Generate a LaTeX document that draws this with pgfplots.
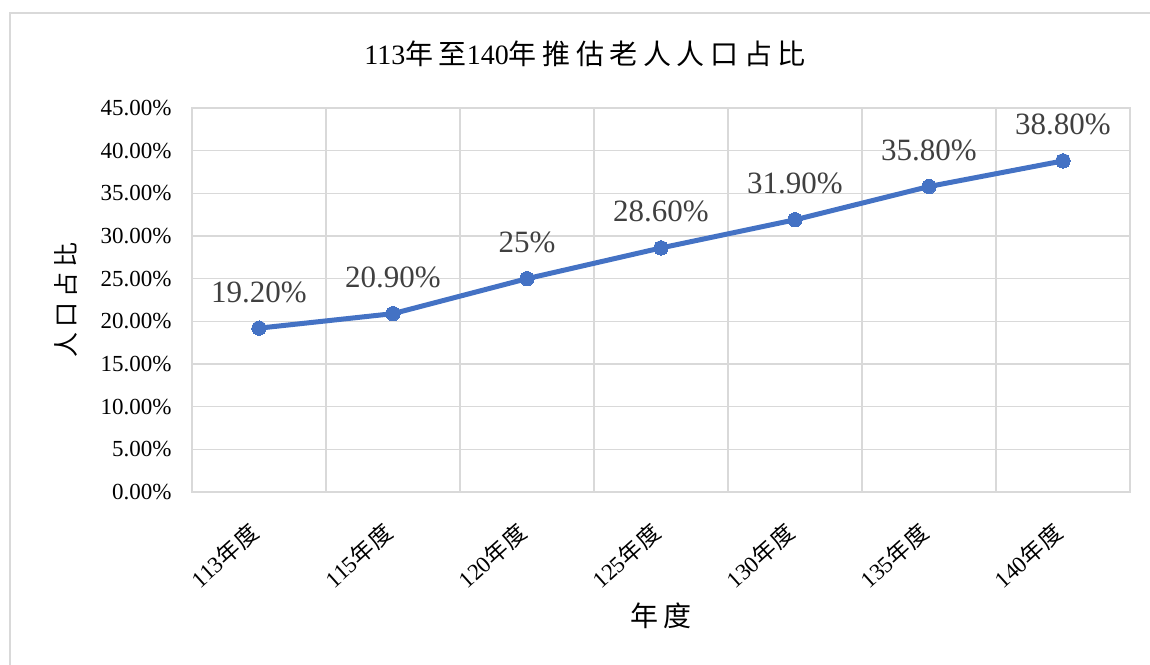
\documentclass[border=0pt]{standalone}
\usepackage{fontspec}
\setmainfont{Liberation Serif}
\newfontfamily\cjk[LetterSpace=20]{Noto Sans CJK TC}
\newfontfamily\cjkt[LetterSpace=6]{Noto Sans CJK TC}
\usepackage{pgfplots}
\pgfplotsset{compat=1.18}
\definecolor{linec}{HTML}{4472C4}
\definecolor{gridc}{HTML}{D9D9D9}
\definecolor{labc}{HTML}{404040}
\newcommand{\zh}[1]{{\cjk #1}}
\newcommand{\zt}[1]{{\cjkt #1}}

\begin{document}
\begin{tikzpicture}
\useasboundingbox (0,0) rectangle (575pt,332pt);
\begin{scope}
  \clip (0,0) rectangle (575pt,332pt);
  \draw[gridc, line width=1pt] (5pt,325.5pt) rectangle (620pt,-20pt);
\end{scope}

\begin{axis}[
    at={(96pt,86pt)}, anchor=south west,
    width=469pt, height=192pt, scale only axis,
    xmin=-0.5, xmax=6.5, ymin=0, ymax=45,
    xtick={0,...,6},
    xticklabels={113\zt{年度},115\zt{年度},120\zt{年度},125\zt{年度},130\zt{年度},135\zt{年度},140\zt{年度}},
    minor xtick={-0.5,0.5,...,6.5},
    ytick={0,5,...,45},
    yticklabels={0.00\%,5.00\%,10.00\%,15.00\%,20.00\%,25.00\%,30.00\%,35.00\%,40.00\%,45.00\%},
    ymajorgrids=true, xminorgrids=true, xmajorgrids=false,
    major grid style={gridc, line width=0.75pt},
    minor grid style={gridc, line width=0.75pt},
    axis line style={gridc, line width=0.75pt},
    major tick length=0pt, minor tick length=0pt,
    tick style={draw=none},
    ticklabel style={font=\fontsize{11.5}{13}\selectfont, text=black},
    yticklabel style={anchor=east, inner sep=0pt, xshift=-10pt},
    xticklabel style={inner sep=0pt, xshift=-2pt, yshift=-18pt, rotate=42, anchor=east},
    clip=false,
]
\addplot[linec, line width=2.5pt, mark=*, mark size=3.6pt,
    mark options={fill=linec, draw=linec, line width=0pt},
    nodes near coords, point meta=explicit symbolic,
    every node near coord/.style={font=\fontsize{15.5}{18}\selectfont, text=labc, anchor=base, yshift=13pt, inner sep=0pt}]
coordinates {
    (0,19.2) [19.20\%]
    (1,20.9) [20.90\%]
    (2,25.0) [25\%]
    (3,28.6) [28.60\%]
    (4,31.9) [31.90\%]
    (5,35.8) [35.80\%]
    (6,38.8) [38.80\%]
};
\end{axis}

\node[font=\fontsize{14}{16}\selectfont] at (292.5pt,305pt) {113\zh{年至}140\zh{年推估老人人口占比}};
\node[rotate=90, font=\fontsize{12.5}{15}\selectfont] at (33pt,182pt) {\zh{人口占比}};
\node[font=\fontsize{14}{16}\selectfont] at (330.5pt,24pt) {\zh{年度}};
\end{tikzpicture}
\end{document}
